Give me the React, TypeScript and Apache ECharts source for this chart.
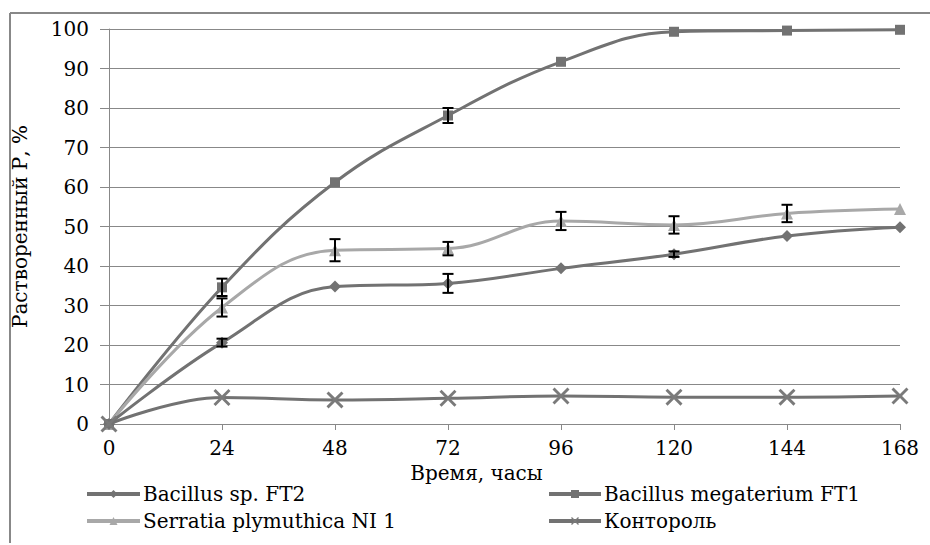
import React, { useEffect, useRef } from "react";
import * as echarts from "echarts";

const hours = [0, 24, 48, 72, 96, 120, 144, 168];
const seriesNames = ["Bacillus sp. FT2", "Bacillus megaterium FT1", "Serratia plymuthica NI 1", "Контороль"];
const bacillusSp = [0, 20.6, 34.8, 35.6, 39.4, 43.0, 47.6, 49.8];
const megaterium = [0, 34.6, 61.2, 78.1, 91.7, 99.3, 99.6, 99.8];
const serratia = [0, 29.5, 44.0, 44.4, 51.4, 50.4, 53.3, 54.4];
const control = [0, 6.7, 6.1, 6.5, 7.1, 6.8, 6.8, 7.1];

// error bars: [hour, value, error]
const errBacillusSp = [[24, 20.6, 1.0], [72, 35.6, 2.4], [120, 43.0, 0.7]];
const errMegaterium = [[24, 34.6, 2.2], [72, 78.1, 1.9]];
const errSerratia = [[24, 29.5, 2.3], [48, 44.0, 2.8], [72, 44.4, 1.7], [96, 51.4, 2.3], [120, 50.4, 2.2], [144, 53.3, 2.2]];

const DARK = "#727272";
const LIGHT = "#a8a8a8";
const GRID = "#888888";
const FONT = "DejaVu Serif";
const CROSS = "path://M0,1.2L1.2,0L5,3.8L8.8,0L10,1.2L6.2,5L10,8.8L8.8,10L5,6.2L1.2,10L0,8.8L3.8,5Z";

function pair(xs: number[], ys: number[]) {
  return xs.map((x, i) => [x, ys[i]]);
}

function errSeries(list: number[][]) {
  return {
    type: "custom",
    z: 5,
    silent: true,
    data: list.map(([x, v, e]) => [x, v - e, v + e]),
    encode: { x: 0, y: [1, 2] },
    renderItem: (params: any, api: any) => {
      const x = api.value(0);
      const lo = api.coord([x, api.value(1)]);
      const hi = api.coord([x, api.value(2)]);
      const w = 5.5;
      const style = { stroke: "#000", lineWidth: 2 };
      return {
        type: "group",
        children: [
          { type: "line", shape: { x1: lo[0], y1: lo[1], x2: hi[0], y2: hi[1] }, style },
          { type: "line", shape: { x1: lo[0] - w, y1: lo[1], x2: lo[0] + w, y2: lo[1] }, style },
          { type: "line", shape: { x1: hi[0] - w, y1: hi[1], x2: hi[0] + w, y2: hi[1] }, style },
        ],
      };
    },
  };
}

export default function App() {
  const ref = useRef<HTMLDivElement>(null);
  useEffect(() => {
    if (!ref.current) return;
    const chart = echarts.init(ref.current, null, { renderer: "svg" });
    const lineBase = { type: "line", smooth: 0.4, lineStyle: { width: 3 } };
    const legendText = { fontFamily: FONT, fontSize: 20, color: "#000", padding: [0, 0, 0, -2] };
    chart.setOption({
      animation: false,
      backgroundColor: "#fff",
      textStyle: { fontFamily: FONT },
      grid: { left: 109, right: 30, top: 29, bottom: 121, containLabel: false },
      xAxis: {
        type: "value",
        min: 0,
        max: 168,
        interval: 24,
        name: "Время, часы",
        nameLocation: "middle",
        nameGap: 39,
        nameTextStyle: { fontFamily: FONT, fontSize: 20, color: "#000", padding: [0, 56, 0, 0] },
        axisLine: { show: true, lineStyle: { color: GRID, width: 1 } },
        axisTick: { show: true, length: 6, lineStyle: { color: GRID } },
        axisLabel: { fontFamily: FONT, fontSize: 20, color: "#000", margin: 14 },
        splitLine: { show: false },
      },
      yAxis: {
        type: "value",
        min: 0,
        max: 100,
        interval: 10,
        name: "Растворенный Р, %",
        nameLocation: "middle",
        nameGap: 79,
        nameTextStyle: { fontFamily: FONT, fontSize: 20, color: "#000" },
        axisLine: { show: true, lineStyle: { color: GRID, width: 1 } },
        axisTick: { show: true, length: 9, lineStyle: { color: GRID } },
        axisLabel: { fontFamily: FONT, fontSize: 20, color: "#000", margin: 20 },
        splitLine: { show: true, lineStyle: { color: GRID, width: 1 } },
      },
      legend: [
        {
          orient: "vertical",
          left: 85,
          top: 484,
          padding: 0,
          itemGap: 7,
          itemWidth: 53,
          itemHeight: 10,
          lineStyle: { width: 4 },
          data: [seriesNames[0], seriesNames[2]],
          textStyle: legendText,
        },
        {
          orient: "vertical",
          left: 547,
          top: 484,
          padding: 0,
          itemGap: 7,
          itemWidth: 52,
          itemHeight: 10,
          lineStyle: { width: 4 },
          data: [seriesNames[1], seriesNames[3]],
          textStyle: legendText,
        },
      ],
      graphic: [
        { type: "line", shape: { x1: 10, y1: 13, x2: 930, y2: 13 }, style: { stroke: GRID, lineWidth: 2 } },
        { type: "line", shape: { x1: 10, y1: 13, x2: 10, y2: 543 }, style: { stroke: GRID, lineWidth: 2 } },
      ],
      series: [
        {
          ...lineBase,
          name: seriesNames[1],
          data: pair(hours, megaterium),
          symbol: "rect",
          symbolSize: 10,
          color: DARK,
          lineStyle: { width: 3, color: DARK },
          itemStyle: { color: DARK },
        },
        {
          ...lineBase,
          name: seriesNames[2],
          data: pair(hours, serratia),
          symbol: "triangle",
          symbolSize: 12,
          color: LIGHT,
          lineStyle: { width: 3, color: LIGHT },
          itemStyle: { color: LIGHT },
        },
        {
          ...lineBase,
          name: seriesNames[0],
          data: pair(hours, bacillusSp),
          symbol: "diamond",
          symbolSize: 12,
          color: DARK,
          lineStyle: { width: 3, color: DARK },
          itemStyle: { color: DARK },
        },
        {
          ...lineBase,
          name: seriesNames[3],
          data: pair(hours, control),
          symbol: CROSS,
          symbolSize: 17,
          color: DARK,
          lineStyle: { width: 3, color: DARK },
          itemStyle: { color: "#7a7a7a" },
        },
        errSeries(errMegaterium),
        errSeries(errSerratia),
        errSeries(errBacillusSp),
      ],
    });
    return () => chart.dispose();
  }, []);
  return (
    <div
      ref={ref}
      style={{ position: "fixed", left: 0, top: 0, width: 930, height: 545 }}
    />
  );
}
